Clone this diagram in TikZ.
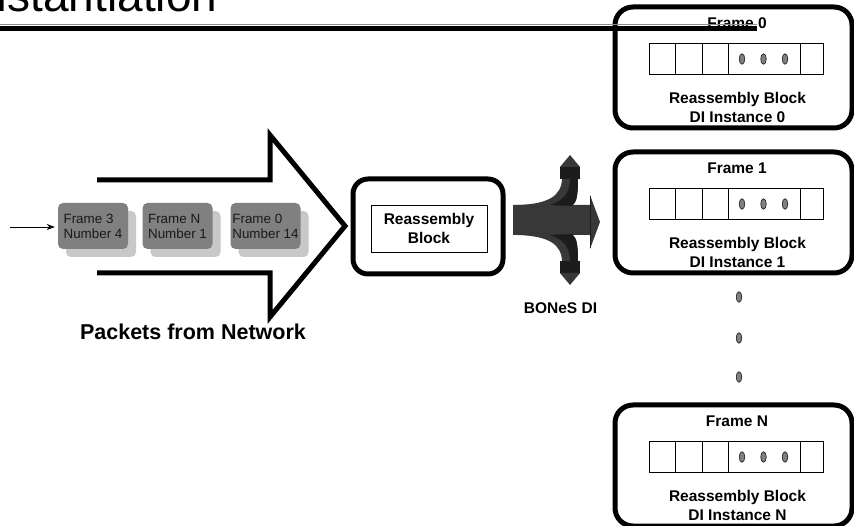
\documentclass[tikz,border=0pt]{standalone}
\usepackage{fontspec}
\setmainfont{Liberation Sans}
\usetikzlibrary{shapes.geometric, arrows.meta, shadows}

\definecolor{pktgray}{HTML}{808080}
\definecolor{shadowgray}{HTML}{C8C8C8}
\definecolor{forkgray}{HTML}{383838}
\definecolor{forkdark}{HTML}{1C1C1C}

% one branch of the BONeS DI fork (upper one; the lower is its mirror image)
\newcommand\forkbranch{%
  \fill[forkgray] (518,205) .. controls (548,204) and (562,196) .. (562,178)
        -- (578,178) .. controls (578,194) and (577,202) .. (572,206) -- cycle;
  \fill[forkdark] (550,205) .. controls (565,200) and (570,192) .. (570,178)
        -- (578,178) .. controls (578,194) and (577,202) .. (572,206) -- cycle;
  \fill[forkdark] (560,167) rectangle (580,179);
  \fill[forkgray] (560,167) -- (570,155) -- (580,167) -- cycle;
}

\begin{document}
\begin{tikzpicture}[x=1pt, y=-1pt,
  lbl/.style={inner sep=0pt, font=\bfseries\fontsize{15.5}{19}\selectfont, align=center},
  instbox/.style={draw, line width=5pt, rounded corners=18pt,
                  minimum width=237pt, minimum height=121pt, inner sep=0pt},
  cellbox/.style={draw, line width=0.9pt, minimum height=31pt, inner sep=0pt},
  dotmark/.style={ellipse, draw=black!85, fill=pktgray, line width=0.7pt,
                  minimum width=5.5pt, minimum height=10.5pt, inner sep=0pt},
  packet/.style={fill=pktgray, rounded corners=5pt, minimum width=70pt,
                 minimum height=46pt, inner sep=0pt, align=left, text=black!90,
                 font=\fontsize{13.4}{15}\selectfont,
                 drop shadow={shadow xshift=8pt, shadow yshift=-8pt,
                              fill=shadowgray, opacity=1}},
]
\useasboundingbox (0,0) rectangle (854,526);

% slide title, cut by the page edge
\node[anchor=base west, inner sep=0pt, font=\fontsize{46}{50}\selectfont]
  (title) at (-31,12) {Instantiation};

% incoming packets inside the big hollow arrow
\draw[line width=5pt, miter limit=10]
  (97,180) -- (270,180) -- (270,135) -- (345,226) -- (270,317) -- (270,273) -- (97,273);

\node[packet] (p1) at (93,226)    {Frame 3\\Number 4};
\node[packet] (p2) at (177.5,226) {Frame N\\Number 1};
\node[packet] (p3) at (265.5,226) {Frame 0\\Number 14};

\coordinate (src) at (10,227);
\draw[line width=0.9pt, -{Stealth[length=8pt, width=6pt]}, shorten >=3pt] (src) -- (p1.west |- src);

\node[lbl, font=\bfseries\fontsize{21.5}{24}\selectfont] (net) at (193,332) {Packets from Network};

% central reassembly block
\node[draw, line width=5pt, rounded corners=15pt, minimum width=150pt,
      minimum height=95pt] (rb) at (428,226.5) {};
\node[draw, line width=0.9pt, minimum width=116pt, minimum height=47pt, lbl]
  (rbin) at (429,228.5) {Reassembly\\Block};

% BONeS DI fork
\fill[forkgray] (513,205) -- (590,205) -- (590,195) -- (600,222) -- (590,249)
                -- (590,235) -- (513,235) -- cycle;
\draw[forkdark, line width=1pt] (590,196) -- (590,248);
\forkbranch
\begin{scope}[shift={(0,440)}, yscale=-1]
  \forkbranch
\end{scope}
\node[lbl] (bones) at (560.5,308) {BONeS DI};

% reassembly block instances
\foreach \t/\f/\n in {7/0/a, 152/1/b, 405/N/c} {
  \node[instbox] (inst\n) at (733.5,\t+60.5) {};
  \node[lbl] (frm\n) at (737,\t+16) {Frame \f};
  \node[cellbox, minimum width=26pt] (c\n1) at (662,\t+51.5) {};
  \node[cellbox, minimum width=27pt] (c\n2) at (688.5,\t+51.5) {};
  \node[cellbox, minimum width=26pt] (c\n3) at (715,\t+51.5) {};
  \node[cellbox, minimum width=72pt] (c\n4) at (764,\t+51.5) {};
  \node[cellbox, minimum width=23pt] (c\n5) at (811.5,\t+51.5) {};
  \node[dotmark] (d\n1) at (742,\t+52) {};
  \node[dotmark] (d\n2) at (763.5,\t+52) {};
  \node[dotmark] (d\n3) at (785,\t+52) {};
  \node[lbl] (txt\n) at (737.5,\t+100) {Reassembly Block\\DI Instance \f};
}

% vertical ellipsis between instances
\node[dotmark] (v1) at (739,297) {};
\node[dotmark] (v2) at (739,338) {};
\node[dotmark] (v3) at (739,377) {};

% title rule, drawn over the first instance
\draw[black!45, line width=1pt] (0,24.5) -- (757,24.5);
\draw[line width=5pt] (0,28.5) -- (757,28.5);
\end{tikzpicture}
\end{document}
